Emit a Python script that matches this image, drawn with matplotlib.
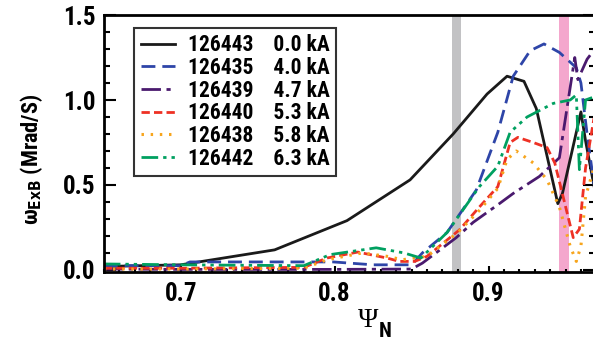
import numpy as np
import matplotlib
matplotlib.use('Agg')
import matplotlib.pyplot as plt
from matplotlib import font_manager
from matplotlib.ticker import MultipleLocator

# shot numbers, coil currents and omega_ExB profiles
shots = ['126443', '126435', '126439', '126440', '126438', '126442']
currents = ['0.0 kA', '4.0 kA', '4.7 kA', '5.3 kA', '5.8 kA', '6.3 kA']

psi_0 = [0.65, 0.70, 0.761, 0.808, 0.849, 0.877, 0.899, 0.912, 0.923, 0.931,
         0.945, 0.948, 0.960, 0.963, 0.969]
w_0 = [0.02, 0.03, 0.118, 0.29, 0.53, 0.80, 1.035, 1.14, 1.11, 0.95,
       0.39, 0.45, 0.93, 0.76, 0.47]

psi_1 = [0.65, 0.70, 0.706, 0.799, 0.825, 0.85, 0.857, 0.873, 0.892, 0.906,
         0.916, 0.927, 0.936, 0.946, 0.957, 0.960, 0.964, 0.969]
w_1 = [0.025, 0.025, 0.047, 0.047, 0.03, 0.03, 0.10, 0.22, 0.47, 0.81,
       1.14, 1.29, 1.33, 1.28, 1.19, 1.10, 0.80, 0.47]

psi_2 = [0.65, 0.70, 0.80, 0.85, 0.857, 0.879, 0.89, 0.907, 0.916, 0.933,
         0.946, 0.956, 0.958, 0.964, 0.969]
w_2 = [0.005, 0.003, 0.003, 0.005, 0.04, 0.19, 0.28, 0.39, 0.45, 0.55,
       0.66, 1.25, 1.12, 1.24, 1.30]

psi_3 = [0.65, 0.70, 0.78, 0.795, 0.815, 0.834, 0.842, 0.852, 0.86, 0.881,
         0.894, 0.906, 0.914, 0.919, 0.929, 0.938, 0.943, 0.955, 0.959, 0.963,
         0.969]
w_3 = [0.01, 0.01, 0.015, 0.07, 0.105, 0.07, 0.05, 0.05, 0.08, 0.235,
       0.37, 0.49, 0.75, 0.78, 0.75, 0.72, 0.63, 0.19, 0.24, 0.60, 0.92]

psi_4 = [0.65, 0.70, 0.78, 0.795, 0.818, 0.834, 0.844, 0.86, 0.88, 0.894,
         0.906, 0.912, 0.918, 0.929, 0.938, 0.946, 0.953, 0.957, 0.96, 0.963,
         0.969]
w_4 = [0.005, 0.005, 0.01, 0.06, 0.10, 0.08, 0.06, 0.08, 0.22, 0.35,
       0.48, 0.65, 0.70, 0.63, 0.53, 0.37, 0.14, 0.05, 0.14, 0.43, 0.62]

psi_5 = [0.65, 0.70, 0.78, 0.797, 0.827, 0.845, 0.856, 0.873, 0.894, 0.906,
         0.914, 0.925, 0.942, 0.953, 0.957, 0.959, 0.963, 0.969]
w_5 = [0.035, 0.03, 0.025, 0.09, 0.13, 0.10, 0.07, 0.22, 0.49, 0.61,
       0.81, 0.90, 0.98, 1.0, 1.03, 0.59, 1.0, 1.02]

colors = ['#1a1a1a', '#2e45a8', '#4a1a6e', '#ee3124', '#f7a51d', '#00a060']
styles = ['-', (0, (5, 2.5)), (0, (7, 2, 1.5, 2)), (0, (3, 1.5)),
          (0, (0.8, 2.2)), (0, (6, 1.8, 1.2, 1.8, 1.2, 1.8))]

# look for a narrow bold sans, the original uses a condensed Helvetica
fonts = font_manager.fontManager.ttflist
fam, stretch = 'Liberation Sans', 'normal'
for want in ['Liberation Sans Narrow', 'Arial Narrow', 'Roboto Condensed',
             'Open Sans Condensed', 'DejaVu Sans']:
    hits = [f for f in fonts if f.name == want and
            (('Narrow' in want or 'Condensed' in want) or
             f.stretch in ('condensed', 'semi-condensed', 600, 500))]
    if hits:
        fam, stretch = want, hits[0].stretch
        break
plt.rcParams['font.family'] = [fam, 'Liberation Sans', 'DejaVu Sans']
plt.rcParams['font.stretch'] = stretch
plt.rcParams['font.weight'] = 'bold'
narrow = fam != 'Liberation Sans'

fig = plt.figure(figsize=(5.93, 3.5), dpi=100)
ax = fig.add_axes([0.175, 0.223, 0.828, 0.734])

ax.axvspan(0.876, 0.882, color='#c2c2c4', lw=0, zorder=0)
ax.axvspan(0.946, 0.952, color='#f4a7cd', lw=0, zorder=0)

xs = [psi_0, psi_1, psi_2, psi_3, psi_4, psi_5]
ys = [w_0, w_1, w_2, w_3, w_4, w_5]
for i in range(6):
    lw = 2.0 if i != 4 else 2.2
    ax.plot(xs[i], ys[i], color=colors[i], linestyle=styles[i], lw=lw,
            label=f'{shots[i]}    {currents[i]}')

ax.set_xlim(0.65, 0.969)
ax.set_ylim(-0.012, 1.5)
ax.xaxis.set_major_locator(MultipleLocator(0.1))
ax.xaxis.set_minor_locator(MultipleLocator(0.01))
ax.yaxis.set_major_locator(MultipleLocator(0.5))
ax.yaxis.set_minor_locator(MultipleLocator(0.1))
ax.xaxis.set_major_formatter(plt.FuncFormatter(lambda v, p: f'{v:.1f}'))
ax.yaxis.set_major_formatter(plt.FuncFormatter(lambda v, p: f'{v:.1f}'))

tick_fs = 18 if narrow else 16
ax.tick_params(axis='both', which='both', direction='in', width=1.5,
               labelsize=tick_fs, right=True)
ax.tick_params(axis='y', which='major', length=8.5, pad=6)
ax.tick_params(axis='y', which='minor', length=4.3)
ax.tick_params(axis='x', which='major', length=4.3, pad=7)
ax.tick_params(axis='x', which='minor', length=2.2)
for lab in ax.get_xticklabels() + ax.get_yticklabels():
    lab.set_fontweight('bold')
for s in ax.spines.values():
    s.set_linewidth(2)

# x label: serif Psi with a bold sans N
fig.text(0.604, 0.065, '\u03a8', family=['Liberation Serif', 'DejaVu Serif'],
         fontweight='normal', fontsize=20, ha='left', va='baseline')
fig.text(0.639, 0.038, 'N', fontsize=15, fontweight='bold',
         ha='left', va='baseline')

ax.set_ylabel(r'$\mathregular{\omega}_{\mathbf{ExB}}$ (Mrad/S)',
              fontsize=16 if narrow else 15, fontweight='bold')
ax.yaxis.set_label_coords(-0.12, 0.44)

leg_fs = 15.5 if narrow else 13.5
leg = ax.legend(loc='upper left', bbox_to_anchor=(0.062, 0.95), fontsize=leg_fs,
                frameon=True, fancybox=False, edgecolor='black',
                handlelength=1.6, handletextpad=0.6, borderpad=0.3,
                labelspacing=0.03, borderaxespad=0,
                prop={'weight': 'bold', 'size': leg_fs})
leg.get_frame().set_linewidth(1.5)

fig.savefig('out.png', dpi=100)
